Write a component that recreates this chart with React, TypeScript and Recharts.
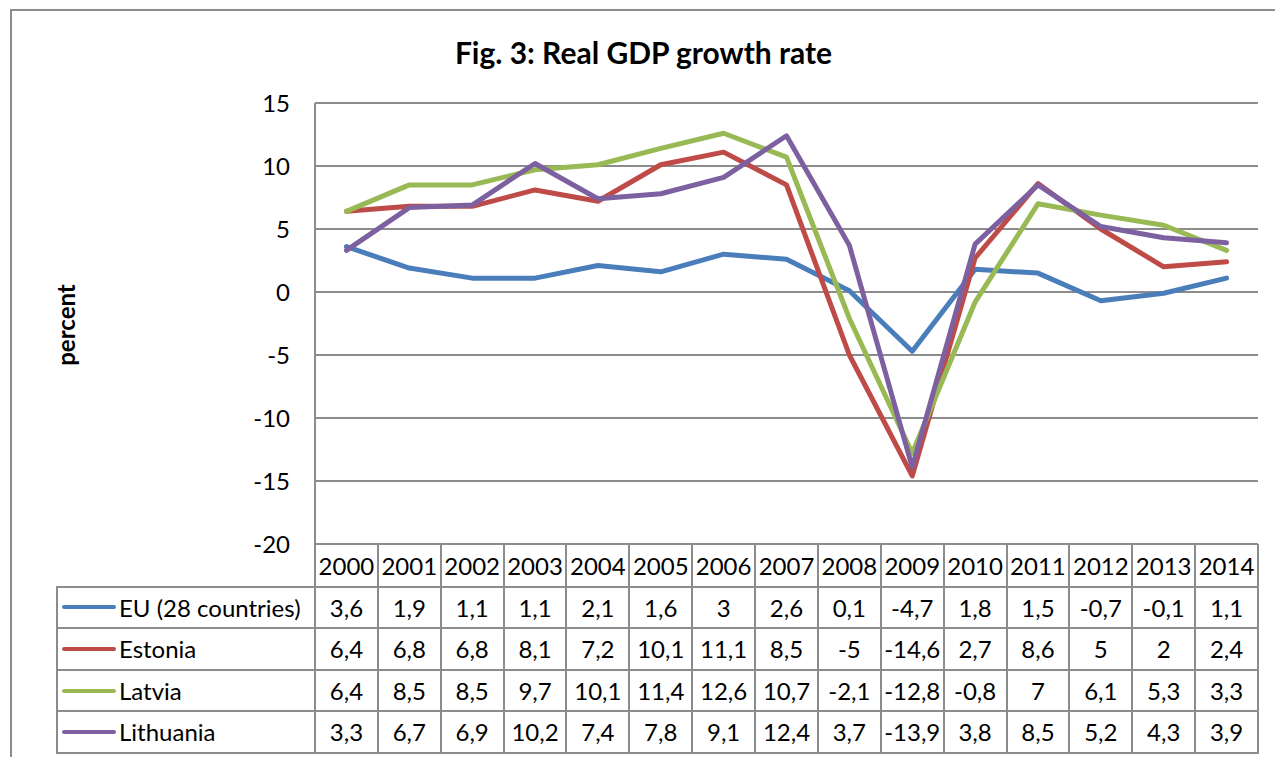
import { LineChart, Line, XAxis, YAxis, CartesianGrid } from "recharts";

const years = [2000, 2001, 2002, 2003, 2004, 2005, 2006, 2007, 2008, 2009, 2010, 2011, 2012, 2013, 2014];
const euValues = [3.6, 1.9, 1.1, 1.1, 2.1, 1.6, 3, 2.6, 0.1, -4.7, 1.8, 1.5, -0.7, -0.1, 1.1];
const estoniaValues = [6.4, 6.8, 6.8, 8.1, 7.2, 10.1, 11.1, 8.5, -5, -14.6, 2.7, 8.6, 5, 2, 2.4];
const latviaValues = [6.4, 8.5, 8.5, 9.7, 10.1, 11.4, 12.6, 10.7, -2.1, -12.8, -0.8, 7, 6.1, 5.3, 3.3];
const lithuaniaValues = [3.3, 6.7, 6.9, 10.2, 7.4, 7.8, 9.1, 12.4, 3.7, -13.9, 3.8, 8.5, 5.2, 4.3, 3.9];
const yTicks = [-20, -15, -10, -5, 0, 5, 10, 15];

const series = [
  { key: "eu", name: "EU (28 countries)", color: "#4a7ebb", values: euValues },
  { key: "estonia", name: "Estonia", color: "#be4b48", values: estoniaValues },
  { key: "latvia", name: "Latvia", color: "#98b954", values: latviaValues },
  { key: "lithuania", name: "Lithuania", color: "#7d60a0", values: lithuaniaValues },
];

const data = years.map((year, i) => {
  const row: Record<string, number> = { year };
  series.forEach((s) => (row[s.key] = s.values[i]));
  return row;
});

const FONT = "Lato, 'Open Sans', sans-serif";
const GRID = "#8c8c8c";
const fmt = (v: number) => String(v).replace(".", ",");

// layout of the plot area
const PLOT_LEFT = 315;
const PLOT_RIGHT = 1258;
const PLOT_TOP = 103;
const PLOT_BOTTOM = 544;
const ROW_H = 41.6;
const LEGEND_LEFT = 57;

export default function App() {
  const colW = (PLOT_RIGHT - PLOT_LEFT) / years.length;
  const tableTop = PLOT_BOTTOM + 1;
  const tableBottom = tableTop + ROW_H * (series.length + 1);

  const text: React.CSSProperties = {
    position: "absolute",
    height: ROW_H,
    lineHeight: `${ROW_H}px`,
    fontSize: 24,
    whiteSpace: "nowrap",
    color: "#000",
  };

  const hLine = (y: number, x1: number, key: string) => (
    <div
      key={key}
      style={{ position: "absolute", left: x1 - 1, top: y - 1, width: PLOT_RIGHT - x1 + 2, height: 2, background: GRID }}
    />
  );
  const vLine = (x: number, y1: number, key: string) => (
    <div
      key={key}
      style={{ position: "absolute", left: x - 1, top: y1 - 1, width: 2, height: tableBottom - y1 + 2, background: GRID }}
    />
  );

  return (
    <div
      style={{
        position: "absolute",
        left: 0,
        top: 0,
        width: 1275,
        height: 757,
        overflow: "hidden",
        background: "#fff",
        fontFamily: FONT,
      }}
    >
      {/* outer chart frame */}
      <div
        style={{
          position: "absolute",
          left: 10,
          top: 9,
          width: 1300,
          height: 800,
          borderLeft: `2px solid ${GRID}`,
          borderTop: `2px solid ${GRID}`,
        }}
      />
      <div
        style={{
          position: "absolute",
          left: 0,
          width: 1275,
          top: 34,
          textAlign: "center",
          fontWeight: "bold",
          fontSize: 30,
          paddingLeft: 12,
          boxSizing: "border-box",
        }}
      >
        Fig. 3: Real GDP growth rate
      </div>
      <div
        style={{
          position: "absolute",
          left: 65,
          top: 325,
          transform: "translate(-50%, -50%) rotate(-90deg)",
          fontWeight: "bold",
          fontSize: 24,
        }}
      >
        percent
      </div>

      <div style={{ position: "absolute", left: 0, top: 0 }}>
        <LineChart
          width={1275}
          height={757}
          data={data}
          margin={{ top: PLOT_TOP, right: 1275 - PLOT_RIGHT, bottom: 757 - PLOT_BOTTOM, left: PLOT_LEFT - 60 }}
        >
          <CartesianGrid vertical={false} stroke={GRID} strokeWidth={2} />
          <XAxis dataKey="year" type="number" domain={[1999.5, 2014.5]} hide />
          <YAxis
            width={60}
            domain={[-20, 15]}
            ticks={yTicks}
            interval={0}
            tickLine={false}
            tickSize={0}
            tickMargin={25}
            axisLine={{ stroke: GRID, strokeWidth: 2 }}
            tick={{ fontSize: 24, fill: "#000", fontFamily: FONT }}
          />
          {series.map((s) => (
            <Line
              key={s.key}
              dataKey={s.key}
              type="linear"
              stroke={s.color}
              strokeWidth={5}
              strokeLinecap="round"
              strokeLinejoin="round"
              dot={false}
              activeDot={false}
              isAnimationActive={false}
            />
          ))}
        </LineChart>
      </div>

      {/* data table under the plot: grid lines */}
      {series.map((s, r) => hLine(tableTop + ROW_H * (r + 1), LEGEND_LEFT, `h${s.key}`))}
      {hLine(tableBottom, LEGEND_LEFT, "hbottom")}
      {vLine(LEGEND_LEFT, tableTop + ROW_H, "vlegend")}
      {years.map((y, c) => vLine(PLOT_LEFT + c * colW, tableTop, `v${y}`))}
      {vLine(PLOT_RIGHT, tableTop, "vright")}

      {/* header row */}
      {years.map((y, c) => (
        <div key={`y${y}`} style={{ ...text, top: tableTop, left: PLOT_LEFT + c * colW, width: colW, textAlign: "center" }}>
          {y}
        </div>
      ))}

      {/* series rows */}
      {series.map((s, r) => {
        const top = tableTop + ROW_H * (r + 1);
        return [
          <div key={`n${s.key}`} style={{ ...text, top, left: LEGEND_LEFT + 5, display: "flex", alignItems: "center" }}>
            <span
              style={{
                display: "inline-block",
                width: 54,
                height: 4,
                borderRadius: 2,
                background: s.color,
                marginRight: 3,
              }}
            />
            <span>{s.name}</span>
          </div>,
          ...s.values.map((v, c) => (
            <div
              key={`${s.key}${c}`}
              style={{ ...text, top, left: PLOT_LEFT + c * colW, width: colW, textAlign: "center" }}
            >
              {fmt(v)}
            </div>
          )),
        ];
      })}
    </div>
  );
}
